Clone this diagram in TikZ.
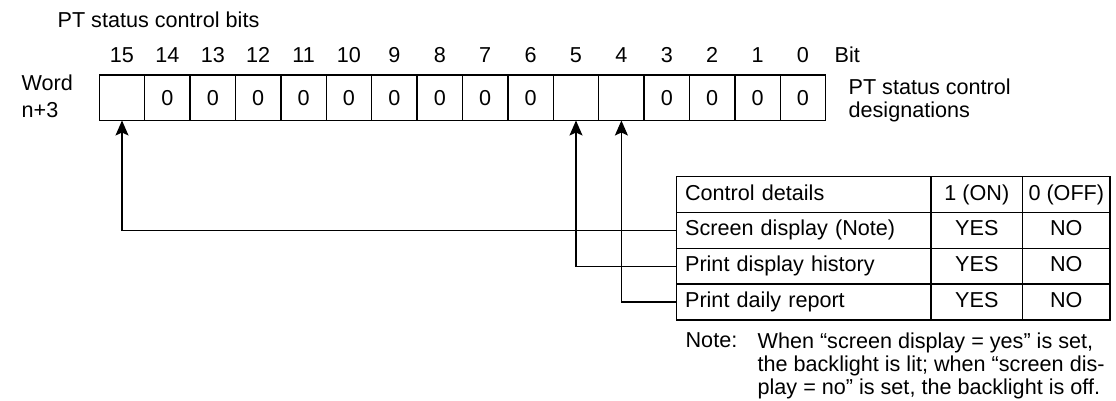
\documentclass[tikz,border=0pt]{standalone}
\usepackage{fontspec}
\setmainfont{Liberation Sans}
\usetikzlibrary{positioning,arrows.meta}
\tikzset{
  bitcell/.style={draw, minimum width=22.7pt, minimum height=22.75pt, inner sep=0pt, outer sep=0pt},
  lbl/.style={inner sep=0pt, anchor=base west, align=left},
  tabcell/.style={draw, minimum height=17.9pt, text height=7.8pt, text depth=2.3pt, inner sep=0pt, outer sep=0pt},
  tabtext/.style={tabcell, text width=118.75pt, inner xsep=4.2pt, align=left},
  pointer/.style={-{Stealth[length=7.5pt,width=6.5pt,inset=1.5pt]}},
}

\begin{document}
\begin{tikzpicture}[
  x=0.5pt, y=-0.5pt,
  line width=0.65pt,
  font=\fontsize{10.8}{11.6}\selectfont,
]
\useasboundingbox (0,0) rectangle (1116,401);

% multi-line labels are placed by the baseline of their last line
\node[lbl] (title) at (57,27.7) {PT status control bits};
\node[lbl, font=\fontsize{10.8}{13.5}\selectfont] (word) at (21,117.7) {Word\\n+3};

% the sixteen bits of the word
\foreach \b/\v [count=\i from 0] in {15/,14/0,13/0,12/0,11/0,10/0,9/0,8/0,7/0,6/0,5/,4/,3/0,2/0,1/0,0/0} {
  \node[bitcell] (b\b) at ({122+45.4*\i},97.75) {\v};
  \node[inner sep=0pt, anchor=base] (n\b) at ({122+45.4*\i},62.7) {\b};
}
\node[lbl] (bit) at (834,62.7) {Bit};
\node[lbl] (desig) at (848,117.7) {PT status control\\designations};

% table of control details
\node[tabtext, anchor=north west] (head) at (676.7,176.7) {Control details};
\node[tabtext, below=0pt of head] (r1) {Screen display (Note)};
\node[tabtext, below=0pt of r1] (r2) {Print display history};
\node[tabtext, below=0pt of r2] (r3) {Print daily report};

\node[tabcell, minimum width=45.85pt, right=0pt of head] (on0) {1 (ON)};
\node[tabcell, minimum width=45.85pt, right=0pt of r1] (on1) {YES};
\node[tabcell, minimum width=45.85pt, right=0pt of r2] (on2) {YES};
\node[tabcell, minimum width=45.85pt, right=0pt of r3] (on3) {YES};

\node[tabcell, minimum width=43.65pt, right=0pt of on0] (off0) {0 (OFF)};
\node[tabcell, minimum width=43.65pt, right=0pt of on1] (off1) {NO};
\node[tabcell, minimum width=43.65pt, right=0pt of on2] (off2) {NO};
\node[tabcell, minimum width=43.65pt, right=0pt of on3] (off3) {NO};

\node[lbl] (notelbl) at (685,347.7) {Note:};
\node[lbl] (note) at (757,394.4) {When “screen display = yes” is set,\\the backlight is lit; when “screen dis-\\play = no” is set, the backlight is off.};

\draw[pointer] (r1.west) -| (b15.south);
\draw[pointer] (r2.west) -| (b5.south);
\draw[pointer] (r3.west) -| (b4.south);

\end{tikzpicture}
\end{document}
